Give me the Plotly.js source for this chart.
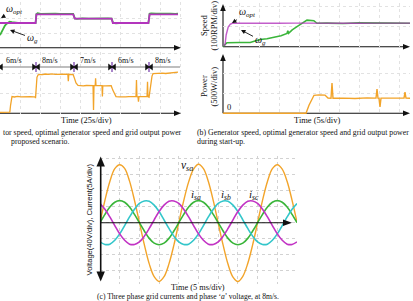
<!DOCTYPE html>
<html><head><meta charset="utf-8">
<script src="https://cdn.plot.ly/plotly-3.0.1.min.js"></script>
<style>html,body{margin:0;padding:0;background:#fff;overflow:hidden}#fig{width:413px;height:301px}</style>
</head><body><div id="fig"></div>
<script>
// ---------- (a) wind-speed step test (25 s/div) ----------
const runOptTime  = [25, 69.5, 70.5, 116.5, 118.5, 164.5, 166, 210.5, 212, 247.5];
const runOptSpeed = [250, 250, 336, 336, 294, 294, 250, 250, 337, 337];           // RPM
const runGenTime  = [25, 27, 29, 31, 33, 35, 37, 40, 44, 50, 56, 62, 69.5, 70.5, 72, 76, 82, 88, 94, 100, 106, 112, 116.5, 118.5, 121, 128, 136, 144, 152, 160, 164.5, 166.5, 170, 178, 186, 194, 202, 210.5, 212, 214, 220, 226, 232, 238, 244, 247.5];
const runGenSpeed = [128, 165, 200, 222, 240, 252, 262, 258, 252, 249, 252, 250, 251, 338, 348, 342, 345, 341, 344, 340, 343, 341, 340, 296, 292, 296, 293, 296, 292, 295, 294, 250, 247, 252, 249, 251, 248, 250, 342, 347, 343, 345, 341, 344, 342, 343];
const runPowerTime = [25, 30, 35, 37.3, 38.2, 39, 40, 43, 47, 51, 55, 59, 63, 67, 68.8, 69.4, 70.3, 71.2, 72.5, 74, 78, 82, 86, 90, 94, 98, 102, 106, 109.8, 110.4, 111, 114, 116.5, 118, 120, 122.5, 125, 129, 133, 137, 141.3, 141.9, 142.5, 144, 144.5, 145, 149, 152.5, 153, 153.5, 157, 161, 164, 166, 168.5, 170, 174, 178, 182, 186, 190, 195, 195.6, 196.2, 197.5, 198.1, 198.7, 202, 206, 208.8, 209.4, 210, 211.3, 212.5, 213.8, 215, 216.3, 220, 224, 228, 232, 236, 237.5, 240, 244, 247.5];
const runPower = [25, 22, 27, 28, 200, 390, 420, 408, 422, 412, 420, 410, 418, 412, 415, 380, 700, 900, 960, 975, 968, 982, 972, 985, 975, 980, 970, 978, 975, 800, 975, 970, 965, 880, 760, 700, 690, 684, 695, 686, 690, 80, 690, 692, 875, 690, 686, 690, 420, 690, 688, 694, 690, 580, 450, 418, 410, 420, 412, 418, 410, 415, 830, 415, 412, 290, 415, 420, 410, 415, 790, 415, 400, 600, 800, 930, 990, 1000, 992, 1003, 995, 1005, 1010, 1022, 1025, 1030]; // W
const windSpeeds = [6, 8, 7, 6, 8];                 // m/s
const windEdges  = [70, 117.5, 165, 211.25];         // s, change-over instants
const runSpan    = [25, 250];

// ---------- (b) start-up (5 s/div) ----------
const startOptTime  = [0, 0.5, 0.8, 1.3, 1.8, 2.3, 3, 6, 10, 14, 18, 22, 26, 30, 34, 38, 42, 46.75];
const startOptSpeed = [8, 9, 60, 98, 112, 117, 118, 117, 118, 117, 118, 117, 117, 118, 117, 118, 117, 118];
const startGenTime  = [0, 0.6, 1.0, 4, 6.8, 8, 9.3, 11, 12.7, 14.5, 16, 16.2, 16.4, 17.3, 18.5, 19.4, 20.2, 21, 22.7, 23.5, 26, 30, 34, 38, 42, 46.75];
const startGenSpeed = [2, 16, 20, 21, 21, 28, 36, 40, 47, 55, 66, 80, 67, 84, 100, 113, 125, 133, 130, 117, 118, 116, 119, 117, 118, 117];
const startPowerTime = [0, 20.75, 21.5, 22.75, 24, 25.5, 26.25, 27, 27.25, 27.5, 30, 33, 36, 38.25, 38.5, 38.75, 39, 39.25, 39.5, 42, 45.25, 45.5, 45.75, 46.75];
const startPower     = [0, 0, 200, 450, 460, 455, 380, 375, 757, 375, 380, 370, 385, 380, 607, 380, 375, 157, 380, 375, 380, 532, 380, 378];

// ---------- (c) grid waveforms at 8 m/s (5 ms/div) ----------
const waveTime = [0, 1.25, 2.5, 3.75, 5, 6.25, 7.5, 8.75, 10, 11.25, 12.5, 13.75, 15, 16.25, 17.5, 18.75, 20, 21.25, 22.5, 23.75, 25, 26.25, 27.5, 28.75, 30, 31.25, 32.5, 33.75, 35, 36.25, 37.5, 38.75, 40, 41.25, 42.5, 43.75, 45, 46.25, 47.5, 48.75, 50]; // ms
const vSa = [0, 56, 103, 135, 145, 136, 104, 56, 1, -55, -103, -135, -147, -135, -103, -56, 0, 55, 102, 134, 146, 135, 103, 55, -1, -56, -104, -136, -147, -134, -102, -55, 0, 56, 103, 135, 145, 134, 103, 56, 1]; // V
const iSa = [0, 2.6, 4.9, 6.4, 6.9, 6.4, 4.9, 2.6, 0, -2.6, -4.9, -6.4, -6.9, -6.4, -4.9, -2.6, 0, 2.6, 4.9, 6.4, 6.9, 6.4, 4.9, 2.6, 0, -2.6, -4.9, -6.4, -6.9, -6.4, -4.9, -2.6, 0, 2.6, 4.9, 6.4, 6.9, 6.4, 4.9, 2.6, 0]; // A
const iSb = [-6.0, -6.8, -6.7, -5.5, -3.5, -0.9, 1.8, 4.2, 6.0, 6.8, 6.7, 5.5, 3.5, 0.9, -1.8, -4.2, -6.0, -6.8, -6.7, -5.5, -3.5, -0.9, 1.8, 4.2, 6.0, 6.8, 6.7, 5.5, 3.5, 0.9, -1.8, -4.2, -6.0, -6.8, -6.7, -5.5, -3.5, -0.9, 1.8, 4.2, 6.0];
const iSc = [6.0, 4.2, 1.8, -0.9, -3.5, -5.5, -6.7, -6.8, -6.0, -4.2, -1.8, 0.9, 3.5, 5.5, 6.7, 6.8, 6.0, 4.2, 1.8, -0.9, -3.5, -5.5, -6.7, -6.8, -6.0, -4.2, -1.8, 0.9, 3.5, 5.5, 6.7, 6.8, 6.0, 4.2, 1.8, -0.9, -3.5, -5.5, -6.7, -6.8, -6.0];

// ---------- styling ----------
const W = 413, H = 301;
const X = p => p / W, Y = p => 1 - p / H;
const SERIF = 'Liberation Serif, Times New Roman, serif';
const SANS = 'Liberation Sans, Arial, sans-serif';
const COL = {purple: '#b335bd', green: '#3ab53a', orange: '#f2a42a', cyan: '#33c6ca', magenta: '#c233c4', band: '#a8a8a8', ink: '#111'};

const base = o => Object.assign({showline: false, zeroline: false, showticklabels: false, ticks: '', showgrid: false, fixedrange: true}, o);
const grid = {showgrid: true, gridcolor: '#e2e2e2', griddash: 'dot', gridwidth: 1};
const gridC = {showgrid: true, gridcolor: '#d2d2d2', griddash: 'dot', gridwidth: 1};

const traces = [
  // (a)
  {x: runGenTime, y: runGenSpeed, xaxis: 'x', yaxis: 'y', mode: 'lines', line: {color: COL.green, width: 1.8}},
  {x: runOptTime, y: runOptSpeed, xaxis: 'x', yaxis: 'y', mode: 'lines', line: {color: COL.purple, width: 1.8}},
  {x: runPowerTime, y: runPower, xaxis: 'x', yaxis: 'y2', mode: 'lines', line: {color: COL.orange, width: 1.3}},
  {x: runSpan, y: [0.5, 0.5], xaxis: 'x', yaxis: 'y3', mode: 'lines', line: {color: COL.band, width: 1.6}},
  {x: windEdges, y: windEdges.map(() => 0.5), xaxis: 'x', yaxis: 'y3', mode: 'markers',
   marker: {symbol: 'line-ns-open', size: 7, line: {color: COL.band, width: 1.6}}},
  {x: windEdges.map(t => t - 2.8), y: windEdges.map(() => 0.5), xaxis: 'x', yaxis: 'y3', mode: 'markers',
   marker: {symbol: 'triangle-right', size: 6, color: COL.ink}},
  {x: windEdges.map(t => t + 2.8).concat([runSpan[0] + 1.5]), y: windEdges.map(() => 0.5).concat([0.5]), xaxis: 'x', yaxis: 'y3', mode: 'markers',
   marker: {symbol: 'triangle-left', size: 6, color: COL.ink}},
  // (b)
  {x: startGenTime, y: startGenSpeed, xaxis: 'x2', yaxis: 'y4', mode: 'lines', line: {color: COL.green, width: 1.6}},
  {x: startOptTime, y: startOptSpeed, xaxis: 'x2', yaxis: 'y4', mode: 'lines', line: {color: COL.purple, width: 1.4}, opacity: 0.8},
  {x: startPowerTime, y: startPower, xaxis: 'x2', yaxis: 'y5', mode: 'lines', line: {color: COL.orange, width: 1.4}},
  // (c)
  {x: waveTime, y: vSa, xaxis: 'x3', yaxis: 'y6', mode: 'lines', line: {color: COL.orange, width: 1.4, shape: 'spline', smoothing: 1}},
  {x: waveTime, y: iSa, xaxis: 'x3', yaxis: 'y7', mode: 'lines', line: {color: COL.green, width: 1.6, shape: 'spline', smoothing: 1}},
  {x: waveTime, y: iSb, xaxis: 'x3', yaxis: 'y7', mode: 'lines', line: {color: COL.cyan, width: 1.6, shape: 'spline', smoothing: 1}},
  {x: waveTime, y: iSc, xaxis: 'x3', yaxis: 'y7', mode: 'lines', line: {color: COL.magenta, width: 1.6, shape: 'spline', smoothing: 1}}
];

// axis lines and filled arrow heads, in figure pixels
const shapes = [];
const seg = (x0, y0, x1, y1, w, layer) => shapes.push({type: 'line', xref: 'paper', yref: 'paper', layer: layer || 'below',
  x0: X(x0), x1: X(x1), y0: Y(y0), y1: Y(y1), line: {color: COL.ink, width: w}});
const tri = (x, y, dir, len, half) => {
  const pts = {r: [[x - len, y - half], [x - len, y + half]], l: [[x + len, y - half], [x + len, y + half]],
               u: [[x - half, y + len], [x + half, y + len]], d: [[x - half, y - len], [x + half, y - len]]}[dir];
  shapes.push({type: 'path', xref: 'paper', yref: 'paper', layer: 'above', line: {width: 0}, fillcolor: COL.ink,
    path: `M${X(x)},${Y(y)} L${X(pts[0][0])},${Y(pts[0][1])} L${X(pts[1][0])},${Y(pts[1][1])} Z`});
};
// (a)
seg(0, 47.7, 176, 47.7, 1.1); tri(181, 47.7, 'r', 7, 2.8);
seg(0, 113.3, 176, 113.3, 1.1); tri(181, 113.3, 'r', 7, 2.8);
// (b)
seg(223, 46.7, 405, 46.7, 1.1); tri(410, 46.7, 'r', 7, 2.8);
seg(223, 113.3, 405, 113.3, 1.1); tri(410, 113.3, 'r', 7, 2.8);
seg(223, 46.7, 223, 10, 1.1); tri(223, 4, 'u', 7, 2.8);
seg(223, 113.3, 223, 60, 1.1); tri(223, 54, 'u', 7, 2.8);
// (c)
seg(100.7, 165, 100.7, 273, 1.6, 'above'); tri(100.7, 156.5, 'u', 10, 4.2); tri(100.7, 281.5, 'd', 10, 4.2);
seg(100.7, 222.7, 284, 222.7, 1.1, 'above'); tri(292, 222.7, 'r', 9, 3.3);

const annotations = [];
const txt = (x, y, text, size, extra) => annotations.push(Object.assign({xref: 'paper', yref: 'paper', x: X(x), y: Y(y), text: text, showarrow: false,
  xanchor: 'center', yanchor: 'middle', font: {family: SERIF, size: size, color: COL.ink}}, extra || {}));

// curve labels with pointers
const omega = s => '<i>ω</i><sub><i>' + s + '</i></sub>';
const pointer = (x, y, ax, ay, text) => annotations.push({xref: 'paper', yref: 'paper', x: X(x), y: Y(y), ax: ax, ay: ay, text: text,
  showarrow: true, arrowhead: 2, arrowsize: 1, arrowwidth: 0.9, arrowcolor: COL.ink, font: {family: SERIF, size: 10, color: COL.ink}});
pointer(0.5, 18, 14, -8, omega('opt'));
pointer(10, 30, 22, 8, omega('g'));
pointer(232, 23, 15, -10, omega('opt'));
pointer(241, 30, 19, 10, omega('g'));

// wind speed segment labels, just after each change-over
const starts = [runSpan[0]].concat(windEdges);
windSpeeds.forEach((v, i) => annotations.push({xref: 'x', yref: 'paper', x: starts[i] + 17, y: Y(60.5),
  text: v + 'm/s', showarrow: false, xanchor: 'center', yanchor: 'middle', font: {family: SERIF, size: 8, color: COL.ink}}));

// axis titles and captions
txt(86, 120, 'Time (25s/div)', 8.5);
txt(317, 120, 'Time (5s/div)', 8.5);
txt(204, 25, 'Speed', 8.5, {textangle: -90});
txt(213.5, 25, '(100RPM/div)', 8.5, {textangle: -90});
txt(204, 86, 'Power', 8.5, {textangle: -90});
txt(213.5, 86, '(500W/div)', 8.5, {textangle: -90});
txt(229, 107, '0', 8.5);
txt(1, 132, 'tor speed, optimal generator speed and grid output power', 7.8, {xanchor: 'left'});
txt(9, 141, 'proposed scenario.', 7.8, {xanchor: 'left'});
txt(195, 132, '(b) Generator speed, optimal generator speed and grid output power', 7.8, {xanchor: 'left'});
txt(195, 141, 'during start-up.', 7.8, {xanchor: 'left'});

txt(89, 219.5, 'Voltage(40V/div), Current(5A/div)', 7.6, {textangle: -90, font: {family: SANS, size: 7.6, color: COL.ink}});
txt(198, 287.5, 'Time (5 ms/div)', 8.3);
txt(95, 296.5, '(c) Three phase grid currents and phase ‘<i>a</i>’ voltage, at 8m/s.', 7.6, {xanchor: 'left'});
txt(187, 166, '<i>v</i><sub><i>sa</i></sub>', 11.5);
txt(196, 195, '<i>i</i><sub><i>sa</i></sub>', 11);
txt(226, 195, '<i>i</i><sub><i>sb</i></sub>', 11);
txt(254, 195, '<i>i</i><sub><i>sc</i></sub>', 11);

const layout = {
  width: W, height: H, margin: {l: 0, r: 0, t: 0, b: 0, pad: 0},
  paper_bgcolor: '#fff', plot_bgcolor: 'rgba(0,0,0,0)', showlegend: false,
  xaxis:  base(Object.assign({domain: [0, X(182)], range: [25, 252.5], anchor: 'y', dtick: 25, tick0: 0}, grid)),
  yaxis:  base(Object.assign({domain: [Y(48), Y(2)], range: [0, 460], anchor: 'x', dtick: 150}, grid)),
  yaxis2: base(Object.assign({domain: [Y(114), Y(52)], range: [-17.5, 1532.5], anchor: 'x', dtick: 500}, grid)),
  yaxis3: base({domain: [Y(76), Y(58)], range: [0, 1], anchor: 'x'}),
  xaxis2: base(Object.assign({domain: [X(223), X(410)], range: [0, 46.75], anchor: 'y4', dtick: 5, tick0: 4}, grid)),
  yaxis4: base(Object.assign({domain: [Y(47), Y(3)], range: [-1.5, 218.5], anchor: 'x2', dtick: 100}, grid)),
  yaxis5: base(Object.assign({domain: [Y(114), Y(55)], range: [-17.5, 1457.5], anchor: 'x2', dtick: 500}, grid)),
  xaxis3: base(Object.assign({domain: [X(100), X(297)], range: [0, 50], anchor: 'y6', dtick: 5, tick0: 0}, gridC)),
  yaxis6: base(Object.assign({domain: [Y(284), Y(156)], range: [-153.25, 166.75], anchor: 'x3', dtick: 40, tick0: 0}, gridC)),
  yaxis7: base({domain: [Y(284), Y(156)], range: [-19.16, 20.84], anchor: 'x3', overlaying: 'y6'}),
  shapes: shapes, annotations: annotations
};

Plotly.newPlot('fig', traces, layout, {staticPlot: true, displayModeBar: false});
</script></body></html>
